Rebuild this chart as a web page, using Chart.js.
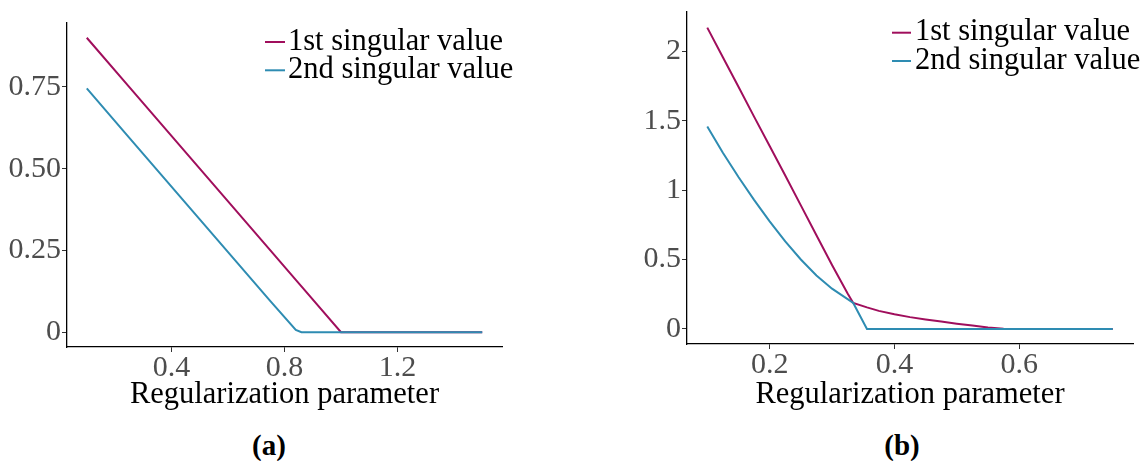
<!DOCTYPE html>
<html>
<head>
<meta charset="utf-8">
<script src="https://cdn.jsdelivr.net/npm/chart.js@4.4.1/dist/chart.umd.min.js"></script>
<style>
  html, body { margin: 0; padding: 0; background: #fff; }
  #page { position: relative; width: 1148px; height: 461px; overflow: hidden; background: #fff; }
  canvas { position: absolute; top: 0; }
  #cA { left: 0; }
  #cB { left: 580px; }
  .cap { position: absolute; top: 427px; width: 100px; text-align: center;
         font-family: "Liberation Serif", serif; font-weight: bold; font-size: 29px; line-height: 36px; color: #000; }
</style>
</head>
<body>
<div id="page">
  <canvas id="cA" width="560" height="420"></canvas>
  <canvas id="cB" width="568" height="420"></canvas>
  <div class="cap" style="left:219px">(a)</div>
  <div class="cap" style="left:852px">(b)</div>
</div>
<script>
// Panel (a): singular values against the regularization parameter
const xA   = [0.1, 0.25, 0.5, 0.75, 0.84, 0.86, 1.0, 1.25, 1.5];
const sv1A = [0.9, 0.75, 0.5, 0.25, 0.16, 0.14, 0, 0, 0];
const sv2A = [0.745, 0.595, 0.345, 0.095, 0.007, 0, 0, 0, 0];

// Panel (b)
const xB   = [0.1, 0.125, 0.15, 0.175, 0.2, 0.225, 0.25, 0.275, 0.3, 0.325, 0.334, 0.356,
              0.375, 0.4, 0.425, 0.45, 0.475, 0.5, 0.525, 0.55, 0.575, 0.6, 0.65, 0.7, 0.75];
const sv1B = [2.171, 1.958, 1.745, 1.53, 1.318, 1.105, 0.89, 0.675, 0.46, 0.255, 0.187, 0.155,
              0.13, 0.105, 0.085, 0.068, 0.053, 0.038, 0.024, 0.011, 0.002, 0, 0, 0, 0];
const sv2B = [1.459, 1.27, 1.095, 0.93, 0.775, 0.63, 0.5, 0.385, 0.29, 0.215, 0.187, 0,
              0, 0, 0, 0, 0, 0, 0, 0, 0, 0, 0, 0, 0];

const seriesNames = ['1st singular value', '2nd singular value'];
const axisTitle = 'Regularization parameter';

// Tick positions and their labels
const xTicksA = [0.4, 0.8, 1.2];
const xTickLabelsA = ['0.4', '0.8', '1.2'];
const yTicksA = [0, 0.25, 0.5, 0.75];
const yTickLabelsA = ['0', '0.25', '0.50', '0.75'];
const xTicksB = [0.2, 0.4, 0.6];
const xTickLabelsB = ['0.2', '0.4', '0.6'];
const yTicksB = [0, 0.5, 1, 1.5, 2];
const yTickLabelsB = ['0', '0.5', '1', '1.5', '2'];

const RED = '#A00E5C';
const BLUE = '#2E8CB2';
const FONT = '"Liberation Serif", serif';

// Legend drawn inside the plot area: short coloured key line + label
const keyLegend = {
  id: 'keyLegend',
  afterDatasetsDraw(chart, args, opts) {
    const ctx = chart.ctx;
    ctx.save();
    ctx.font = opts.size + 'px ' + FONT;
    ctx.textAlign = 'left';
    ctx.textBaseline = 'alphabetic';
    chart.data.datasets.forEach((ds, i) => {
      const y = opts.ys[i];
      ctx.strokeStyle = ds.borderColor;
      ctx.lineWidth = 2;
      ctx.beginPath();
      ctx.moveTo(opts.x0, y);
      ctx.lineTo(opts.x1, y);
      ctx.stroke();
      ctx.fillStyle = '#000';
      ctx.fillText(ds.label, opts.tx, y + opts.dy);
    });
    ctx.restore();
  }
};

function pts(xs, ys) { return xs.map((x, i) => ({ x: x, y: ys[i] })); }

function makeChart(id, d) {
  const tickFont = { family: FONT, size: 30, lineHeight: 1 };
  const axisGrid = { display: true, drawOnChartArea: false, drawTicks: true, tickLength: 5, tickColor: '#333', lineWidth: 1 };
  const axisBorder = { display: true, color: '#000', width: 1.3 };
  return new Chart(document.getElementById(id), {
    type: 'line',
    data: {
      datasets: [
        { label: seriesNames[0], data: pts(d.x, d.s1), borderColor: RED, borderWidth: 2, pointRadius: 0, tension: 0, order: 2 },
        { label: seriesNames[1], data: pts(d.x, d.s2), borderColor: BLUE, borderWidth: 2, pointRadius: 0, tension: 0, order: 1 }
      ]
    },
    options: {
      responsive: false,
      animation: false,
      devicePixelRatio: 1,
      layout: { padding: d.pad },
      plugins: {
        legend: { display: false },
        tooltip: { enabled: false },
        keyLegend: d.legend
      },
      scales: {
        x: {
          type: 'linear', min: d.xmin, max: d.xmax,
          grid: axisGrid, border: axisBorder,
          afterBuildTicks: s => { s.ticks = d.xt.map(v => ({ value: v })); },
          ticks: { font: tickFont, color: '#4D4D4D', padding: 1, maxRotation: 0, autoSkip: false,
                   callback: v => d.xl[d.xt.indexOf(v)] },
          title: { display: true, text: axisTitle, color: '#000', font: { family: FONT, size: 30.5, lineHeight: 1 },
                   padding: { top: 0, bottom: 10 } },
          afterFit: s => { s.height = d.xh; s.paddingLeft = 0; s.paddingRight = 0; }
        },
        y: {
          type: 'linear', min: d.ymin, max: d.ymax,
          grid: axisGrid, border: axisBorder,
          afterBuildTicks: s => { s.ticks = d.yt.map(v => ({ value: v })); },
          ticks: { font: tickFont, color: '#4D4D4D', padding: 1, autoSkip: false,
                   callback: v => d.yl[d.yt.indexOf(v)] },
          afterFit: s => { s.width = d.yw; s.paddingTop = 0; s.paddingBottom = 0; }
        }
      }
    },
    plugins: [keyLegend]
  });
}

makeChart('cA', {
  x: xA, s1: sv1A, s2: sv2A,
  xmin: 0.03, xmax: 1.57, ymin: -0.045, ymax: 0.945,
  xt: xTicksA, xl: xTickLabelsA, yt: yTicksA, yl: yTickLabelsA,
  pad: { left: 0, top: 23, right: 58, bottom: 0 }, yw: 67, xh: 73,
  legend: { x0: 265, x1: 285, tx: 288, ys: [42, 70.3], dy: 7.5, size: 30.5 }
});

makeChart('cB', {
  x: xB, s1: sv1B, s2: sv2B,
  xmin: 0.0675, xmax: 0.7825, ymin: -0.10875, ymax: 2.28375,
  xt: xTicksB, xl: xTickLabelsB, yt: yTicksB, yl: yTickLabelsB,
  pad: { left: 0, top: 12, right: 15, bottom: 0 }, yw: 107, xh: 76,
  legend: { x0: 312, x1: 331, tx: 335, ys: [32.7, 61], dy: 7.5, size: 30.5 }
});
</script>
</body>
</html>
